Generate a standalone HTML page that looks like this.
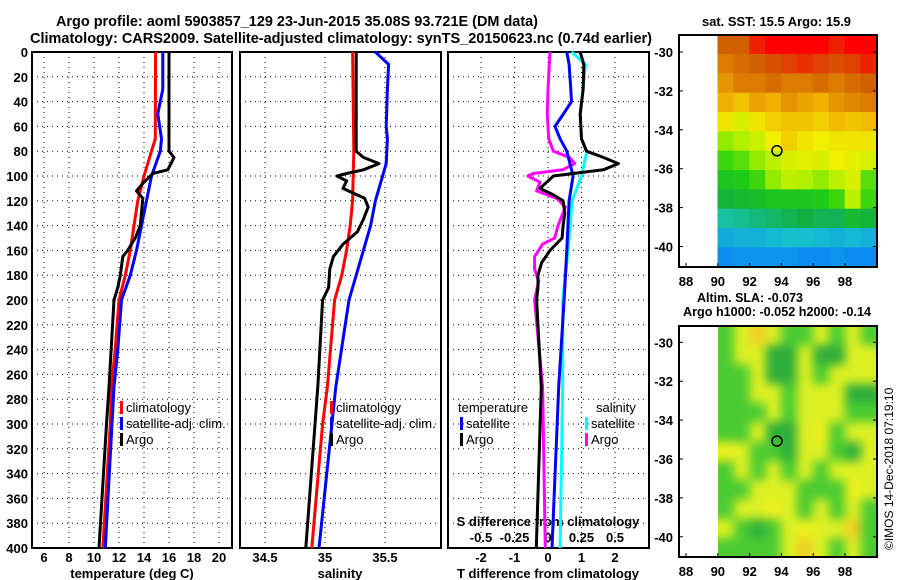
<!DOCTYPE html>
<html><head><meta charset="utf-8"><style>
body{margin:0;background:#fff;position:relative;width:900px;height:580px;overflow:hidden}
svg{display:block;font-family:"Liberation Sans",sans-serif;font-weight:bold;position:absolute;left:0;top:0}
#slaBox{position:absolute;left:718px;top:326px;width:159px;height:231px;overflow:hidden}
#slaInner{position:absolute;left:0;top:0;width:159px;height:231px;filter:blur(5px)}
#slaInner div{position:absolute}
</style></head><body>
<div id="slaBox"><div id="slaInner"></div></div>
<svg id="c" width="900" height="580" viewBox="0 0 900 580" xmlns="http://www.w3.org/2000/svg">
<text x="56" y="26" font-size="15" textLength="482" lengthAdjust="spacingAndGlyphs">Argo profile: aoml 5903857_129 23-Jun-2015 35.08S 93.721E (DM data)</text>
<text x="30" y="43" font-size="15" textLength="622" lengthAdjust="spacingAndGlyphs">Climatology: CARS2009. Satellite-adjusted climatology: synTS_20150623.nc (0.74d earlier)</text>
<text x="702" y="26" font-size="13" textLength="149" lengthAdjust="spacingAndGlyphs">sat. SST: 15.5 Argo: 15.9</text>
<text x="697" y="302" font-size="13" textLength="106" lengthAdjust="spacingAndGlyphs">Altim. SLA: -0.073</text>
<text x="683" y="316" font-size="13" textLength="188" lengthAdjust="spacingAndGlyphs">Argo h1000: -0.052 h2000: -0.14</text>
<text transform="translate(893,550) rotate(-90)" font-size="12" font-weight="normal">©IMOS 14-Dec-2018 07:19:10</text>
<g id="g"></g>
</svg>
<script>
const depthTicks=[0,20,40,60,80,100,120,140,160,180,200,220,240,260,280,300,320,340,360,380,400];
const tTicks=[6,8,10,12,14,16,18,20];
const sTicks=[34.5,35,35.5];
const dTicks=[-2,-1,0,1,2];
const sdTickLabels=["-0.5","-0.25","0","0.25","0.5"];
const sdTickVals=[-0.5,-0.25,0,0.25,0.5];
// temperature profiles
const climTdep=[0,60,70,80,100,120,140,160,180,200,240,270,300,400];
const climT=[14.93,14.9,14.9,14.6,14.0,13.5,13.2,12.9,12.5,12.0,11.7,11.4,11.3,10.7];
const satTdep=[0,30,50,70,80,100,120,140,160,180,200,240,270,400];
const satT=[15.5,15.5,15.1,15.4,15.3,14.6,14.2,13.8,13.4,12.9,12.2,11.9,11.6,10.9];
const argoTdep=[0,80,85,95,98,105,112,118,140,150,160,165,180,190,200,270,300,400];
const argoT=[16.0,16.0,16.4,15.9,14.7,14.0,13.4,13.9,13.7,13.3,12.7,12.3,12.1,11.9,11.6,11.2,11.0,10.4];
// salinity profiles
const climSdep=[0,80,120,140,160,180,200,270,300,400];
const climS=[35.23,35.24,35.23,35.21,35.18,35.14,35.08,35.02,34.98,34.89];
const satSdep=[0,10,30,60,70,90,100,120,140,160,180,200,270,400];
const satS=[35.42,35.53,35.52,35.51,35.52,35.51,35.48,35.42,35.38,35.32,35.26,35.2,35.09,34.95];
const argoSdep=[0,80,85,90,95,98,100,104,110,114,118,125,135,145,155,165,175,190,200,270,400];
const argoS=[35.26,35.26,35.32,35.45,35.32,35.18,35.1,35.18,35.15,35.24,35.33,35.36,35.32,35.27,35.15,35.07,35.04,35.03,34.98,34.94,34.84];
// differences
const satDTdep=[0,10,30,40,50,60,70,80,100,120,160,200,270,400];
const satDT=[0.56,0.63,0.68,0.7,0.46,0.21,0.36,0.56,0.75,0.63,0.56,0.48,0.32,0.12];
const argoDTdep=[0,10,30,50,70,80,85,90,95,98,100,105,110,115,120,130,140,150,160,170,180,190,200,270,400];
const argoDT=[0.96,1.07,1.05,0.96,1.0,1.15,1.65,2.1,1.65,0.75,0.16,-0.04,-0.24,0.15,0.45,0.5,0.45,0.42,0.06,-0.19,-0.3,-0.3,-0.34,-0.2,-0.35];
const satDSdep=[0,10,30,50,70,80,100,120,160,200,270,400];
const satDS=[0.177,0.28,0.26,0.24,0.25,0.29,0.25,0.18,0.15,0.11,0.11,0.09];
const argoDSdep=[0,30,50,70,80,85,90,95,98,100,105,112,118,125,140,150,155,165,175,185,200,270,400];
const argoDS=[0.015,0,-0.005,0.005,0.04,0.16,0.2,0.11,-0.11,-0.15,-0.06,-0.085,0.065,0.13,0.075,0.05,-0.04,-0.1,-0.1,-0.07,-0.1,-0.04,-0.02];
// maps (rows north->south, cols lon 90..99)
const sstGrid=[
[17.4,17.4,17.8,18,18,18,18,17.8,18,18],
[17.2,17.3,17.4,17.5,17.6,17.7,17.6,17.5,17.6,17.8],
[17.0,17.2,17.2,17.3,17.2,17.2,17.3,17.2,17.3,17.4],
[16.8,16.6,16.9,16.8,17.0,16.9,16.8,17.0,17.1,17.2],
[16.3,16.0,16.3,16.5,16.6,16.6,16.5,16.7,16.6,16.7],
[15.6,15.7,15.9,16.2,16.5,16.3,16.2,16.3,16.3,16.3],
[15.3,15.4,15.6,15.8,16.0,16.1,16.0,16.2,16.1,16.0],
[15.0,15.1,15.3,15.6,15.8,15.7,15.6,15.8,16.0,15.4],
[14.6,14.7,14.8,15.0,15.0,15.0,15.1,15.3,15.8,15.3],
[14.0,14.1,14.2,14.3,14.4,14.5,14.4,14.4,14.7,14.6],
[13.4,13.5,13.5,13.6,13.7,13.7,13.6,13.5,13.6,13.5],
[13.0,13.1,13.1,13.1,13.1,13.0,13.0,13.1,13.0,13.0]];
const slaGrid=[
[-0.06,0.04,0.1,0.04,-0.06,-0.06,0.04,-0.06,0.04,-0.06],
[-0.06,0.04,0.04,-0.12,-0.12,0.04,-0.12,-0.12,0.04,0.04],
[-0.06,-0.06,0.04,-0.12,-0.12,0.04,-0.06,0.04,0.04,0.04],
[-0.06,-0.06,0.04,0.04,-0.06,0.04,0.04,0.04,-0.12,-0.12],
[-0.06,-0.06,-0.06,0.04,-0.06,0.04,0.04,0.04,-0.06,-0.06],
[-0.06,-0.06,0.04,-0.12,-0.12,0.04,0.06,-0.06,0.04,0.04],
[0.06,0.04,-0.06,-0.06,-0.12,0.04,0.04,-0.06,-0.12,0.04],
[-0.06,0.04,-0.06,0.04,-0.06,0.04,-0.06,0.04,0.04,0.04],
[-0.06,-0.06,0.04,0.04,0.04,-0.06,-0.06,-0.06,0.06,0.04],
[-0.06,0.04,0.04,0.06,0.04,-0.06,0.04,-0.06,0.04,-0.06],
[0.04,-0.06,-0.12,-0.06,0.04,0.06,0.04,0.04,0.1,-0.06],
[-0.06,-0.06,-0.06,-0.06,0.04,0.1,0.04,-0.06,0.04,-0.06]];
const lonTicks=[88,90,92,94,96,98];
const latTicks=[-30,-32,-34,-36,-38,-40];
const argoLon=93.72, argoLat=-35.08;

const NS="http://www.w3.org/2000/svg";
const G=document.getElementById('g');
function mk(tag,attrs,parent){const e=document.createElementNS(NS,tag);for(const k in attrs)e.setAttribute(k,attrs[k]);(parent||G).appendChild(e);return e;}
function txt(x,y,s,size,anchor,parent){const e=mk('text',{x:x,y:y,'font-size':size,'text-anchor':anchor||'middle'},parent);e.textContent=s;return e;}
const yD=d=>52+d*1.24;
const xT=t=>44+(t-6)*12.5;
const xS=s=>265+(s-34.5)*120;
const xDT=d=>548+d*33.5;
const xDS=s=>548+s*134;
const panels=[{x0:32,x1:232,name:'temperature'},{x0:240,x1:441,name:'salinity'},{x0:448,x1:649,name:'difference'}];
panels.forEach((p,i)=>{
  const g=mk('g',{});
  
  
  depthTicks.forEach(d=>{if(d>0&&d<400){const l=mk('line',{x1:p.x0,x2:p.x1,y1:yD(d),y2:yD(d),stroke:'#000','stroke-width':1,'stroke-dasharray':'1,4'},g);}});
  const xs=i==0?tTicks.map(xT):i==1?sTicks.map(xS):dTicks.map(xDT);
  xs.forEach(x=>{const l=mk('line',{x1:x,x2:x,y1:52,y2:548,stroke:'#000','stroke-width':1,'stroke-dasharray':'1,4'},g);});
  const r=mk('rect',{x:p.x0,y:52,width:p.x1-p.x0,height:496,fill:'none',stroke:'#000','stroke-width':2},g);
  
});
depthTicks.forEach(d=>{const t=txt(28,yD(d)+5,String(d),13,'end');});
tTicks.forEach(v=>{const t=txt(xT(v),562,String(v),13);});
sTicks.forEach(v=>{const t=txt(xS(v),562,String(v),13);});
dTicks.forEach(v=>{const t=txt(xDT(v),562,String(v),13);});
sdTickVals.forEach((v,i)=>{const t=txt(xDS(v),542,sdTickLabels[i],13);});
let t;
t=txt(132,578,'temperature (deg C)',13);
t=txt(340,578,'salinity',13);
t=txt(548,578,'T difference from climatology',13);
t=txt(548,526,'S difference from climatology',13);
function line(deps,vals,xf,color,name){
  const pts=deps.map((d,i)=>xf(vals[i]).toFixed(1)+','+yD(d).toFixed(1)).join(' ');
  const e=mk('polyline',{points:pts,fill:'none',stroke:color,'stroke-width':3,'stroke-linejoin':'round'});
  
  
}
line(climTdep,climT,xT,'#ff0000','temp-climatology-line');
line(satTdep,satT,xT,'#0000ff','temp-satellite-line');
line(argoTdep,argoT,xT,'#000','temp-argo-line');
line(climSdep,climS,xS,'#ff0000','sal-climatology-line');
line(satSdep,satS,xS,'#0000ff','sal-satellite-line');
line(argoSdep,argoS,xS,'#000','sal-argo-line');
line(argoDSdep,argoDS,xDS,'#ff00ff','s-diff-argo-line');
line(satDSdep,satDS,xDS,'#00ffff','s-diff-satellite-line');
line(satDTdep,satDT,xDT,'#0000ff','t-diff-satellite-line');
line(argoDTdep,argoDT,xDT,'#000','t-diff-argo-line');
function leg(x,y,color,label,name){
  const g=mk('g',{});
  
  
  mk('rect',{x:x,y:y-11,width:3,height:13,fill:color},g);
  txt(x+6,y,label,13,'start',g).setAttribute('font-weight','normal');
}
[[120,'#ff0000','climatology'],[120,'#0000ff','satellite-adj. clim.'],[120,'#000','Argo']].forEach((a,i)=>leg(a[0],412+i*16,a[1],a[2],'temp-legend-entry'));
[[330,'#ff0000','climatology'],[330,'#0000ff','satellite-adj. clim.'],[330,'#000','Argo']].forEach((a,i)=>leg(a[0],412+i*16,a[1],a[2],'sal-legend-entry'));
t=txt(458,412,'temperature',13,'start');t.setAttribute('font-weight','normal');
t=txt(596,412,'salinity',13,'start');t.setAttribute('font-weight','normal');
leg(460,428,'#0000ff','satellite','diff-legend-entry');
leg(460,444,'#000','Argo','diff-legend-entry');
leg(585,428,'#00ffff','satellite','diff-legend-entry');
leg(585,444,'#ff00ff','Argo','diff-legend-entry');
function sstColor(v){
  const stops=[[13,[10,140,240]],[13.8,[25,200,200]],[14.5,[16,176,64]],[15.2,[32,208,16]],[15.7,[176,240,0]],[16.2,[240,240,0]],[16.8,[240,176,0]],[17.4,[208,96,0]],[18,[255,0,0]]];
  return interp(stops,v);
}
function slaColor(v){
  const stops=[[-0.15,[32,160,64]],[-0.05,[80,208,48]],[0.02,[200,240,40]],[0.06,[240,240,30]],[0.12,[240,190,40]]];
  return interp(stops,v);
}
function interp(st,v){
  if(v<=st[0][0])return 'rgb('+st[0][1]+')';
  for(let i=1;i<st.length;i++){if(v<=st[i][0]){const a=st[i-1],b=st[i],f=(v-a[0])/(b[0]-a[0]);return 'rgb('+a[1].map((c,k)=>Math.round(c+(b[1][k]-c)*f)).join(',')+')';}}
  return 'rgb('+st[st.length-1][1]+')';
}
function map(top,bottom,grid,colorFn,name,smooth){
  const xL=v=>686+(v-88)*15.9;
  const yL=v=>(top===35?52:342.3)+(-30-v)*19.45;
  const g=mk('g',{});
  
  
  const rh=(bottom-top)/grid.length;
  if(smooth){
    const inner=document.getElementById('slaInner');
    grid.forEach((row,ri)=>row.forEach((v,ci)=>{
      let x=xL(90+ci)-718, w=16.5, y=ri*rh, h=rh+0.6;
      if(ci===0){x-=8;w+=8;}
      if(ci===row.length-1)w+=10;
      if(ri===0){y-=8;h+=8;}
      if(ri===grid.length-1)h+=10;
      const c=document.createElement('div');
      c.style.cssText='left:'+x+'px;top:'+y+'px;width:'+w+'px;height:'+h+'px;background:'+colorFn(v);
      
      
      inner.appendChild(c);
    }));
  } else {
    grid.forEach((row,ri)=>row.forEach((v,ci)=>{
      const c=mk('rect',{x:xL(90+ci)-0.3,y:top+ri*rh-0.3,width:16.5,height:rh+0.6,fill:colorFn(v)},g);
      
      
    }));
  }
  mk('rect',{x:679,y:top,width:198,height:bottom-top,fill:'none',stroke:'#000','stroke-width':2},g);
  mk('circle',{cx:xL(argoLon),cy:yL(argoLat),r:5,fill:'none',stroke:'#000','stroke-width':1.5},g);
  lonTicks.forEach(v=>{mk('line',{x1:xL(v),x2:xL(v),y1:bottom,y2:bottom-4,stroke:'#000'},g);txt(xL(v),bottom+19,String(v),13,'middle',g);});
  latTicks.forEach(v=>{mk('line',{x1:679,x2:683,y1:yL(v),y2:yL(v),stroke:'#000'},g);mk('line',{x1:877,x2:873,y1:yL(v),y2:yL(v),stroke:'#000'},g);txt(673,yL(v)+5,String(v),13,'end',g);});
}
map(35,267,sstGrid,sstColor,'sst-map',false);
map(326,557,slaGrid,slaColor,'sla-map',true);
</script>
</body></html>
